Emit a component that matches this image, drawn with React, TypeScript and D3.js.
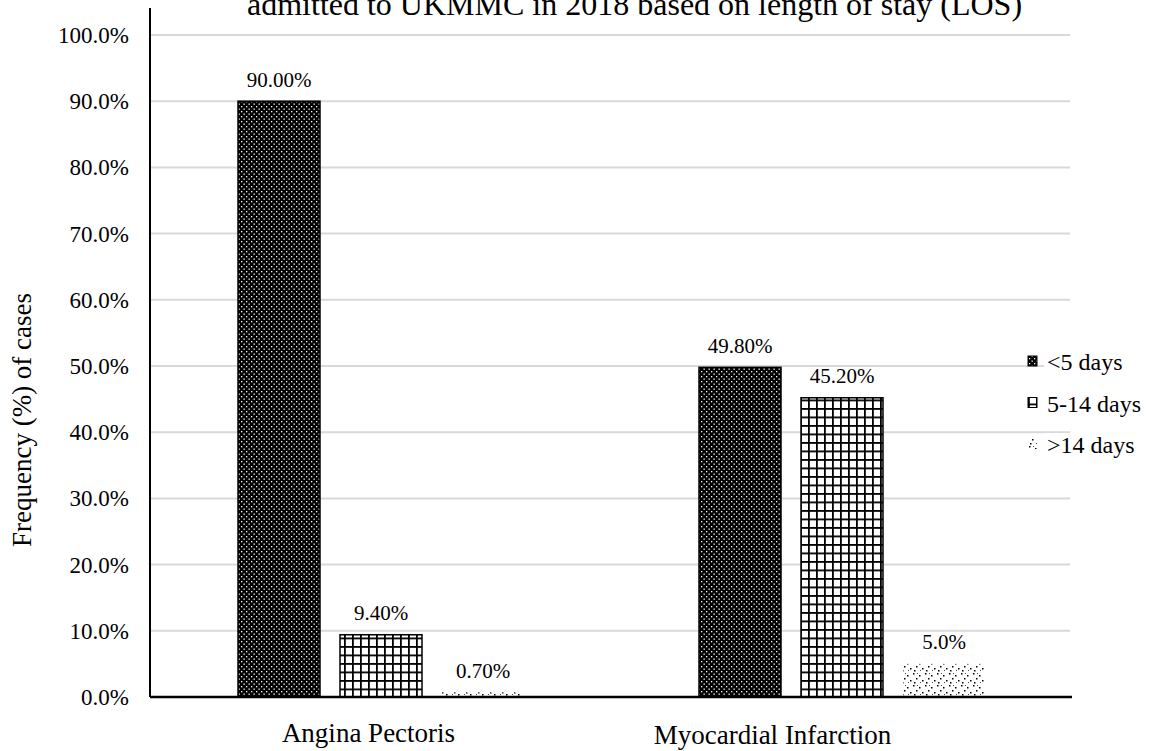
import React from "react";
import * as d3 from "d3";

const categories = ["Angina Pectoris", "Myocardial Infarction"];
const seriesNames = ["<5 days", "5-14 days", ">14 days"];
const lessThan5 = [90.0, 49.8];
const from5to14 = [9.4, 45.2];
const over14 = [0.7, 5.0];
const valueLabels = [
  ["90.00%", "49.80%"],
  ["9.40%", "45.20%"],
  ["0.70%", "5.0%"],
];
const yTicks = [0, 10, 20, 30, 40, 50, 60, 70, 80, 90, 100];
const titleLine = "admitted to UKMMC in 2018 based on length of stay (LOS)";
const yTitle = "Frequency (%) of cases";

const W = 1149;
const H = 751;
const plotLeft = 150;
const plotRight = 1072;
const plotTop = 35;
const plotBottom = 697;
const font = '"Liberation Serif", "Times New Roman", Times, serif';

export default function App() {
  const x0 = d3.scaleBand<string>().domain(categories).range([plotLeft, plotRight]).padding(0);
  const x1 = d3
    .scaleBand<string>()
    .domain(seriesNames)
    .range([88, 374])
    .paddingInner(20 / 102)
    .paddingOuter(0);
  const y = d3.scaleLinear().domain([0, 100]).range([plotBottom, plotTop]);
  const seriesValues = [lessThan5, from5to14, over14];
  const patterns = ["pDots", "pGrid", "pSparse"];
  const catLabelOffsets = [-12, -69];
  const catLabelBaseline = [742, 744];

  return (
    <svg width={W} height={H} style={{ position: "absolute", left: 0, top: 0, background: "#fff", fontFamily: font }}>
      <defs>
        <pattern id="pDots" width="5" height="5" patternUnits="userSpaceOnUse">
          <rect width="5" height="5" fill="#000" />
          <rect x="1" y="1" width="1.3" height="1.3" fill="#fff" />
          <rect x="3.5" y="3.5" width="1.3" height="1.3" fill="#fff" />
        </pattern>
        <pattern id="pGrid" width="8" height="8.5" patternUnits="userSpaceOnUse">
          <rect width="8" height="8.5" fill="#fff" />
          <rect x="0" y="0" width="8" height="1.8" fill="#000" />
          <rect x="0" y="0" width="1.8" height="8.5" fill="#000" />
        </pattern>
        <pattern id="pSparse" width="12" height="12" patternUnits="userSpaceOnUse">
          <rect width="12" height="12" fill="#fff" />
          <rect x="1" y="1" width="1.5" height="1.5" fill="#000" />
          <rect x="7" y="3" width="1.5" height="1.5" fill="#000" />
          <rect x="4" y="6" width="1.5" height="1.5" fill="#000" />
          <rect x="10" y="8" width="1.5" height="1.5" fill="#000" />
          <rect x="2" y="10" width="1.5" height="1.5" fill="#000" />
          <rect x="8" y="10" width="1" height="1" fill="#444" />
          <rect x="5" y="1" width="1" height="1" fill="#444" />
        </pattern>
      </defs>

      <text x={247} y={15} fontSize={32} textAnchor="start" fill="#000" style={{ fontFamily: font }}>
        {titleLine}
      </text>

      {yTicks.map((t) => (
        <g key={t}>
          {t > 0 && (
            <line x1={plotLeft} x2={plotRight - 2} y1={y(t)} y2={y(t)} stroke="#d9d9d9" strokeWidth={2} />
          )}
          <text x={129} y={y(t)} dy="0.35em" fontSize={23} textAnchor="end" fill="#000" style={{ fontFamily: font }}>
            {t.toFixed(1) + "%"}
          </text>
        </g>
      ))}

      {seriesValues.map((vals, si) =>
        vals.map((v, ci) => {
          const bx = (x0(categories[ci]) as number) + (x1(seriesNames[si]) as number);
          const bw = x1.bandwidth();
          const top = y(v);
          return (
            <g key={si + "-" + ci}>
              <rect
                x={bx}
                y={top}
                width={bw}
                height={plotBottom - top}
                fill={"url(#" + patterns[si] + ")"}
                stroke={si < 2 ? "#000" : "none"}
                strokeWidth={1.5}
              />
              <text x={bx + bw / 2} y={top - 22} dy="0.35em" fontSize={21} textAnchor="middle" fill="#000" style={{ fontFamily: font }}>
                {valueLabels[si][ci]}
              </text>
            </g>
          );
        })
      )}

      <line x1={plotLeft} x2={plotLeft} y1={8} y2={plotBottom} stroke="#000" strokeWidth={2} />
      <line x1={plotLeft} x2={plotRight} y1={plotBottom} y2={plotBottom} stroke="#000" strokeWidth={2.5} />

      {categories.map((c, i) => (
        <text
          key={c}
          x={(x0(c) as number) + x0.bandwidth() / 2 + catLabelOffsets[i]}
          y={catLabelBaseline[i]}
          fontSize={27}
          textAnchor="middle"
          fill="#000"
          style={{ fontFamily: font }}
        >
          {c}
        </text>
      ))}

      <text
        transform={`translate(22, 420) rotate(-90)`}
        fontSize={27}
        textAnchor="middle"
        dy="0.35em"
        fill="#000"
        style={{ fontFamily: font }}
      >
        {yTitle}
      </text>

      {seriesNames.map((s, i) => (
        <g key={s} transform={`translate(1028, ${362 + i * 41.5})`}>
          <rect x={16} y={-12} width={100} height={24} fill="#fff" />
          <rect x={0} y={-6} width={9} height={10} fill={"url(#" + patterns[i] + ")"} stroke={i < 2 ? "#000" : "none"} strokeWidth={1} />
          <text x={19} y={0} dy="0.35em" fontSize={24} fill="#000" style={{ fontFamily: font }}>
            {s}
          </text>
        </g>
      ))}
    </svg>
  );
}
